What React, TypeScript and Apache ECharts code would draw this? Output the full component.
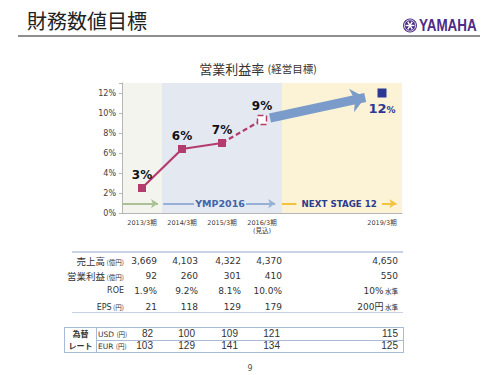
import React, { useEffect, useRef } from 'react';
import * as echarts from 'echarts';

// ---- Data ----
const categories = ['2013/3期', '2014/3期', '2015/3期', '2016/3期\n(見込)', '', '', '2019/3期'];
const actualMargin: (number | string)[] = [2.5, 6.4, 7.0, '-', '-', '-', '-'];
const forecastMargin: (number | string)[] = ['-', '-', 7.0, 9.3, '-', '-', '-'];
const targetMargin: (number | string)[] = ['-', '-', '-', '-', '-', '-', 12];
const yTickStep = 2;
const phaseNames = ['YMP2016', 'NEXT STAGE 12'];

const salesRow = ['3,669', '4,103', '4,322', '4,370', '4,650'];
const opIncomeRow = ['92', '260', '301', '410', '550'];
const roeRow = ['1.9%', '9.2%', '8.1%', '10.0%', '10%'];
const epsRow = ['21', '118', '129', '179', '200円'];
const usdRow = ['82', '100', '109', '121', '115'];
const eurRow = ['103', '129', '141', '134', '125'];

// ---- Styles ----
const LINE_COLOR = '#b43c6c';
const NAVY = '#2b3894';
const bandColors = ['#f2f4ed', '#e3e8f1', '#e3e8f1', '#e3e8f1', '#fcf3d7', '#fcf3d7', '#fcf3d7'];
const CJK = '"Noto Sans CJK JP", sans-serif';
const NUM = '"DejaVu Sans", "Noto Sans CJK JP", sans-serif';

const col1X = [157, 198, 241, 282, 398];
const col2X = [153, 195, 238, 280, 398];

function Cell({ x, y, w = 70, align = 'right', children, style }: any) {
  const left = align === 'right' ? x - w : x;
  return (
    <div
      style={{
        position: 'absolute',
        left,
        top: y - 7,
        width: w,
        height: 14,
        lineHeight: '14px',
        textAlign: align,
        whiteSpace: 'nowrap',
        color: '#333',
        fontFamily: NUM,
        ...style,
      }}
    >
      {children}
    </div>
  );
}

const small = { fontSize: 6.5, fontFamily: CJK } as any;

export default function App() {
  const ref = useRef<HTMLDivElement>(null);
  useEffect(() => {
    if (!ref.current) return;
    const chart = echarts.init(ref.current, undefined, { renderer: 'svg' });
    const option: any = {
      animation: false,
      textStyle: { fontFamily: NUM },
      grid: { left: 122, right: 98, top: 83, bottom: 162 },
      xAxis: [
        {
          type: 'category',
          data: categories,
          boundaryGap: true,
          axisLine: { lineStyle: { color: '#b5b5b5' } },
          axisTick: { length: 3, interval: 0, lineStyle: { color: '#b5b5b5' } },
          axisLabel: { fontSize: 6.5, color: '#404040', margin: 6, lineHeight: 8, interval: 0, fontFamily: NUM },
          splitLine: { show: false },
          splitArea: { show: true, interval: 0, areaStyle: { color: bandColors } },
        },
        { type: 'value', min: 0, max: 7, show: false },
      ],
      yAxis: {
        type: 'value',
        min: 0,
        max: 13,
        interval: yTickStep,
        axisLine: { show: true, lineStyle: { color: '#b5b5b5' } },
        axisTick: { show: true, length: 3, lineStyle: { color: '#b5b5b5' } },
        splitLine: { show: false },
        axisLabel: {
          fontSize: 8,
          color: '#404040',
          margin: 6,
          formatter: (v: number) => (v % yTickStep === 0 ? v + '%' : ''),
        },
      },
      graphic: [
        {
          type: 'text',
          left: 27,
          top: 10,
          style: { text: '財務数値目標', fontSize: 20, fontFamily: CJK, fill: '#222' },
        },
        {
          type: 'line',
          shape: { x1: 18, y1: 36, x2: 480, y2: 36 },
          style: { stroke: '#8f8f8f', lineWidth: 2 },
        },
        {
          type: 'group',
          x: 410,
          y: 25.5,
          children: [
            { type: 'circle', shape: { cx: 0, cy: 0, r: 7 }, style: { fill: '#4c2c85' } },
            { type: 'circle', shape: { cx: 0, cy: 0, r: 5.6 }, style: { fill: 'none', stroke: '#fff', lineWidth: 0.8 } },
            { type: 'line', shape: { x1: -4.5, y1: 0, x2: 4.5, y2: 0 }, style: { stroke: '#fff', lineWidth: 1.4 } },
            { type: 'line', shape: { x1: -2.25, y1: -3.9, x2: 2.25, y2: 3.9 }, style: { stroke: '#fff', lineWidth: 1.4 } },
            { type: 'line', shape: { x1: 2.25, y1: -3.9, x2: -2.25, y2: 3.9 }, style: { stroke: '#fff', lineWidth: 1.4 } },
          ],
        },
        {
          type: 'text',
          x: 419,
          y: 25.5,
          scaleX: 0.84,
          style: {
            text: 'YAMAHA',
            fontSize: 16,
            fontWeight: 'bold',
            fontFamily: '"Liberation Sans", Arial, sans-serif',
            fill: '#4c2c85',
            textVerticalAlign: 'middle',
            verticalAlign: 'middle',
          },
        },
        {
          type: 'text',
          x: 258,
          y: 68,
          style: {
            text: '{a|営業利益率} {b|(経営目標)}',
            align: 'center',
            verticalAlign: 'middle',
            rich: {
              a: { fontSize: 13, fontFamily: CJK, fill: '#333', color: '#333' },
              b: { fontSize: 10.5, fontFamily: CJK, fill: '#333', color: '#333' },
            },
          },
        },
        {
          type: 'text',
          x: 250,
          y: 368,
          style: { text: '9', fontSize: 8, fill: '#555', align: 'center', verticalAlign: 'middle', fontFamily: NUM },
        },
      ],
      series: [
        {
          type: 'line',
          name: 'decor',
          xAxisIndex: 1,
          yAxisIndex: 0,
          data: [],
          silent: true,
          markLine: {
            silent: true,
            animation: false,
            symbol: ['none', 'arrow'],
            symbolSize: 7,
            label: { show: false },
            lineStyle: { type: 'solid', width: 2 },
            data: [
              [
                { coord: [0.0, 0.94], lineStyle: { color: '#abc096', type: 'solid', width: 2 } },
                { coord: [0.9, 0.94] },
              ],
              [
                { coord: [1.03, 0.94], symbol: 'none', lineStyle: { color: '#97b0d6', type: 'solid', width: 2 } },
                { coord: [1.8, 0.94], symbol: 'none' },
              ],
              [
                { coord: [3.1, 0.94], lineStyle: { color: '#97b0d6', type: 'solid', width: 2 } },
                { coord: [3.83, 0.94] },
              ],
              [
                { coord: [4.0, 0.94], symbol: 'none', lineStyle: { color: '#f3c340', type: 'solid', width: 2 } },
                { coord: [4.36, 0.94], symbol: 'none' },
              ],
              [
                { coord: [6.5, 0.94], lineStyle: { color: '#f3c340', type: 'solid', width: 2 } },
                { coord: [6.86, 0.94] },
              ],
              [
                { coord: [3.7, 9.5], symbol: 'none', lineStyle: { color: '#7b9bca', type: 'solid', width: 9 } },
                { coord: [6.08, 11.55], symbol: 'arrow', symbolSize: [18, 14] },
              ],
            ],
          },
          markPoint: {
            silent: true,
            animation: false,
            symbol: 'rect',
            symbolSize: 1,
            itemStyle: { color: 'rgba(0,0,0,0)' },
            data: [
              {
                name: phaseNames[0],
                coord: [2.45, 0.94],
                label: { show: true, position: 'inside', formatter: '{b}', fontSize: 9.5, fontWeight: 'bold', color: '#4264a8', fontFamily: NUM },
              },
              {
                name: phaseNames[1],
                coord: [5.43, 0.94],
                label: { show: true, position: 'inside', formatter: '{b}', fontSize: 8.7, fontWeight: 'bold', color: '#2d3b8e', fontFamily: NUM },
              },
            ],
          },
        },
        {
          type: 'line',
          name: 'actual',
          data: actualMargin,
          symbol: 'rect',
          symbolSize: 8,
          lineStyle: { color: LINE_COLOR, width: 2.2 },
          itemStyle: { color: LINE_COLOR },
          label: {
            show: true,
            position: 'top',
            distance: 3,
            fontSize: 12,
            fontWeight: 'bold',
            color: '#111',
            fontFamily: NUM,
            formatter: (p: any) => Math.round(p.value) + '%',
          },
          z: 5,
        },
        {
          type: 'line',
          name: 'forecast',
          data: forecastMargin.map((v, i) =>
            i === 3
              ? {
                  value: v,
                  symbol: 'rect',
                  symbolSize: 9,
                  itemStyle: { color: '#fff', borderColor: LINE_COLOR, borderWidth: 1.5, borderType: 'dashed' },
                  label: {
                    show: true,
                    position: 'top',
                    distance: 3,
                    fontSize: 12,
                    fontWeight: 'bold',
                    color: '#111',
                    fontFamily: NUM,
                    formatter: (p: any) => Math.round(p.value) + '%',
                  },
                }
              : { value: v, symbol: 'none' }
          ),
          lineStyle: { color: LINE_COLOR, width: 2.2, type: [5, 3] },
          itemStyle: { color: LINE_COLOR },
          z: 4,
        },
        {
          type: 'line',
          name: 'target',
          data: targetMargin,
          symbol: 'rect',
          symbolSize: 9,
          itemStyle: { color: NAVY },
          lineStyle: { width: 0 },
          label: {
            show: true,
            position: 'bottom',
            distance: 4,
            formatter: (p: any) => `{n|${p.value}}{p|%}`,
            rich: {
              n: { fontSize: 13, fontWeight: 'bold', color: NAVY, fontFamily: NUM },
              p: { fontSize: 9, fontWeight: 'bold', color: NAVY, fontFamily: NUM, padding: [3, 0, 0, 0] },
            },
          },
          z: 5,
        },
      ],
    };
    chart.setOption(option);
    return () => chart.dispose();
  }, []);

  const rowsY = [260.7, 275.7, 290.9, 306.5];
  const labels1 = [
    ['売上高', '(億円)'],
    ['営業利益', '(億円)'],
    ['ROE', ''],
    ['EPS', '(円)'],
  ];
  const rows1 = [salesRow, opIncomeRow, roeRow, epsRow];
  const suffix1 = [[], [], [4], [4]];

  return (
    <div style={{ position: 'absolute', left: 0, top: 0, width: 500, height: 375, background: '#fff', overflow: 'hidden' }}>
      <div ref={ref} style={{ position: 'absolute', left: 0, top: 0, width: 500, height: 375 }} />
      <div style={{ position: 'absolute', left: 0, top: 0, width: 500, height: 375, pointerEvents: 'none' }}>
        {/* table 1 */}
        <div style={{ position: 'absolute', left: 72, top: 251, width: 331, height: 1.5, background: '#c8d2e3' }} />
        <div style={{ position: 'absolute', left: 72, top: 311.5, width: 331, height: 1.5, background: '#c8d2e3' }} />
        {labels1.map((l, r) => (
          <Cell key={'l' + r} x={124} y={rowsY[r]} w={60} style={{ fontSize: l[0].match(/[A-Z]/) ? 8 : 9.5, fontFamily: l[0].match(/[A-Z]/) ? NUM : CJK }}>
            {l[0]}
            {l[1] ? <span style={{ ...small }}> {l[1]}</span> : null}
          </Cell>
        ))}
        {rows1.map((row, r) =>
          row.map((v, c) => (
            <Cell key={r + '-' + c} x={col1X[c]} y={rowsY[r]} style={{ fontSize: 9 }}>
              {v.endsWith('円') ? (
                <>
                  {v.slice(0, -1)}
                  <span style={{ fontFamily: CJK, fontSize: 9 }}>円</span>
                </>
              ) : (
                v
              )}
              {(suffix1[r] as number[]).includes(c) ? <span style={{ ...small }}> 水準</span> : null}
            </Cell>
          ))
        )}
        {/* table 2 */}
        <div style={{ position: 'absolute', left: 64, top: 326.5, width: 338, height: 24, border: '1px solid #a9bad6' }} />
        <div style={{ position: 'absolute', left: 96, top: 327, width: 1, height: 25, background: '#a9bad6' }} />
        <div style={{ position: 'absolute', left: 96, top: 339.5, width: 307, height: 1, background: '#a9bad6' }} />
        <Cell x={65} y={334} w={31} align="center" style={{ fontSize: 8, fontWeight: 'bold', fontFamily: CJK, lineHeight: '14px' }}>為替</Cell>
        <Cell x={65} y={345.5} w={31} align="center" style={{ fontSize: 8, fontWeight: 'bold', fontFamily: CJK }}>レート</Cell>
        <Cell x={98} y={333.5} w={50} align="left" style={{ fontSize: 7.5 }}>
          USD <span style={{ ...small }}>(円)</span>
        </Cell>
        <Cell x={98} y={346} w={50} align="left" style={{ fontSize: 7.5 }}>
          EUR <span style={{ ...small }}>(円)</span>
        </Cell>
        {usdRow.map((v, c) => (
          <Cell key={'u' + c} x={col2X[c]} y={333.5} style={{ fontSize: 10, fontFamily: '"Liberation Sans", sans-serif' }}>{v}</Cell>
        ))}
        {eurRow.map((v, c) => (
          <Cell key={'e' + c} x={col2X[c]} y={346} style={{ fontSize: 10, fontFamily: '"Liberation Sans", sans-serif' }}>{v}</Cell>
        ))}
      </div>
    </div>
  );
}
